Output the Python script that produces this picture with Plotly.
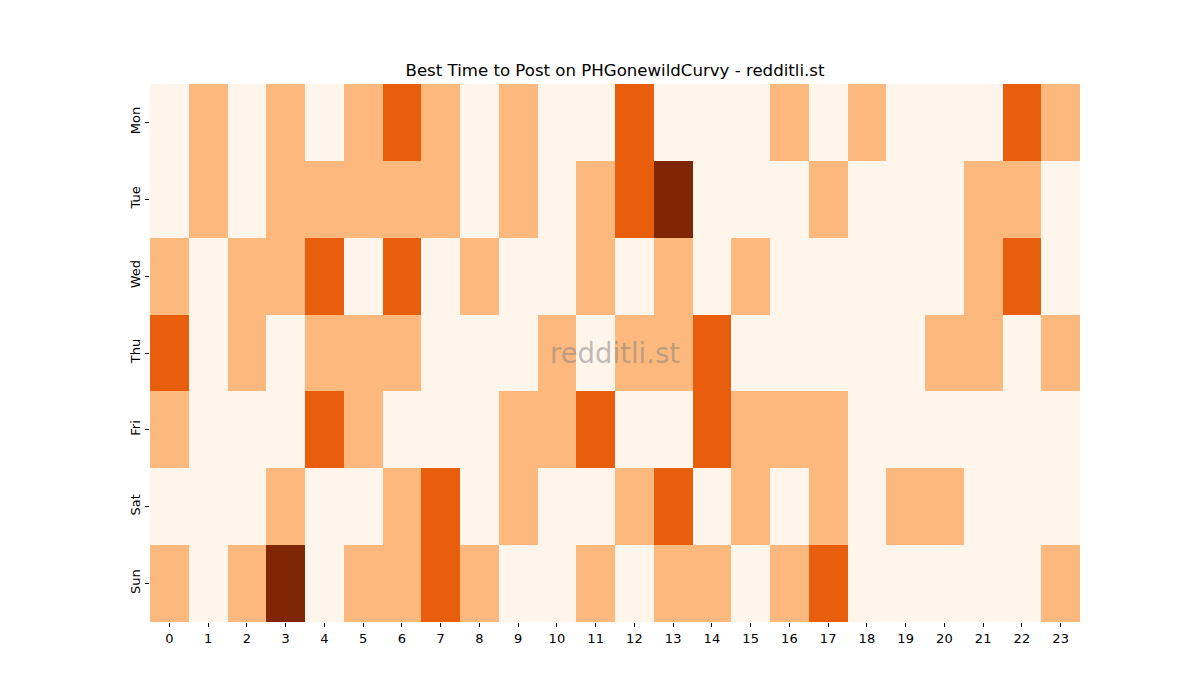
"""Best time to post heatmap (day x hour) with Plotly."""

import plotly.graph_objects as go

DAYS = ["Mon", "Tue", "Wed", "Thu", "Fri", "Sat", "Sun"]
HOURS = list(range(24))

# activity level per hour, one list per day
MON = [0, 1, 0, 1, 0, 1, 2, 1, 0, 1, 0, 0, 2, 0, 0, 0, 1, 0, 1, 0, 0, 0, 2, 1]
TUE = [0, 1, 0, 1, 1, 1, 1, 1, 0, 1, 0, 1, 2, 3, 0, 0, 0, 1, 0, 0, 0, 1, 1, 0]
WED = [1, 0, 1, 1, 2, 0, 2, 0, 1, 0, 0, 1, 0, 1, 0, 1, 0, 0, 0, 0, 0, 1, 2, 0]
THU = [2, 0, 1, 0, 1, 1, 1, 0, 0, 0, 1, 0, 1, 1, 2, 0, 0, 0, 0, 0, 1, 1, 0, 1]
FRI = [1, 0, 0, 0, 2, 1, 0, 0, 0, 1, 1, 2, 0, 0, 2, 1, 1, 1, 0, 0, 0, 0, 0, 0]
SAT = [0, 0, 0, 1, 0, 0, 1, 2, 0, 1, 0, 0, 1, 2, 0, 1, 0, 1, 0, 1, 1, 0, 0, 0]
SUN = [1, 0, 1, 3, 0, 1, 1, 2, 1, 0, 0, 1, 0, 1, 1, 0, 1, 2, 0, 0, 0, 0, 0, 1]

ORANGES = [
    [0.0, "#fff5eb"],
    [1 / 3, "#fdb97d"],
    [2 / 3, "#e95e0d"],
    [1.0, "#7f2704"],
]

FONT = "DejaVu Sans"

fig = go.Figure(
    go.Heatmap(
        z=[MON, TUE, WED, THU, FRI, SAT, SUN],
        x=HOURS,
        y=DAYS,
        colorscale=ORANGES,
        zmin=0,
        zmax=3,
        showscale=False,
        xgap=0,
        ygap=0,
    )
)

# page body adds an 8px offset, so margins are shifted to compensate
fig.update_layout(
    title={
        "text": "Best Time to Post on PHGonewildCurvy - redditli.st",
        "x": 607 / 1200,
        "xanchor": "center",
        "y": 1 - 62 / 700,
        "yanchor": "middle",
        "font": {"family": FONT, "size": 16.6, "color": "black"},
    },
    width=1200,
    height=700,
    margin={"l": 142, "r": 128, "t": 76, "b": 86},
    paper_bgcolor="white",
    plot_bgcolor="white",
    font={"family": FONT, "size": 13, "color": "black"},
    annotations=[
        {
            "text": "redditli.st",
            "xref": "paper",
            "yref": "paper",
            "x": 0.5,
            "y": 0.5,
            "showarrow": False,
            "font": {"family": FONT, "size": 27.5, "color": "rgba(128,128,128,0.5)"},
        }
    ],
)

fig.update_xaxes(
    type="category",
    tickmode="array",
    tickvals=HOURS,
    ticktext=[str(h) for h in HOURS],
    ticks="outside",
    ticklen=4,
    tickcolor="black",
    showgrid=False,
    zeroline=False,
    showline=False,
)
fig.update_yaxes(
    type="category",
    autorange="reversed",
    ticks="outside",
    ticklen=4,
    tickcolor="black",
    tickangle=-90,
    showgrid=False,
    zeroline=False,
    showline=False,
)

fig.write_html("out.html")
